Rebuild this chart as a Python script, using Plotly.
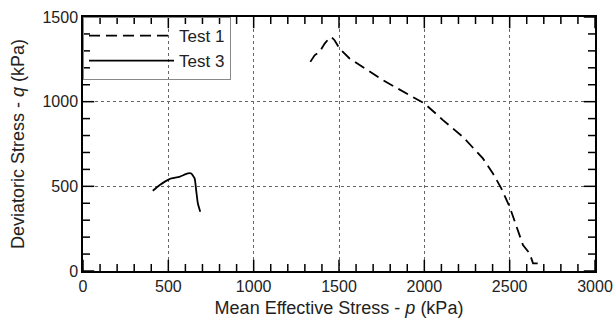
import plotly.graph_objects as go

test1_p = [1332, 1357, 1386, 1416, 1440, 1455, 1474, 1503, 1562, 1757, 1914, 2001, 2089, 2109, 2226, 2343, 2402, 2451, 2500, 2539, 2578, 2617, 2637, 2666]
test1_q = [1235, 1274, 1294, 1343, 1372, 1382, 1363, 1314, 1255, 1127, 1038, 989, 910, 891, 792, 665, 576, 488, 379, 261, 153, 104, 45, 45]

test3_p = [409, 448, 507, 565, 614, 634, 654, 663, 673, 687]
test3_q = [474, 507, 543, 556, 576, 576, 547, 478, 399, 350]

x_range = [0, 3000]
y_range = [0, 1500]
major_step = 500
minor_step = 100

font = "Liberation Sans, Arial, sans-serif"

fig = go.Figure()
fig.add_trace(go.Scatter(x=test1_p, y=test1_q, mode="lines", name="Test 1",
                         line=dict(color="black", width=1.8, dash="11px,6px")))
fig.add_trace(go.Scatter(x=test3_p, y=test3_q, mode="lines", name="Test 3",
                         line=dict(color="black", width=1.8, shape="spline", smoothing=0.5)))

# inside tick marks (half of each marker is clipped by the plot area)
x_major = list(range(x_range[0], x_range[1] + 1, major_step))
x_minor = [v for v in range(x_range[0], x_range[1] + 1, minor_step) if v % major_step]
y_major = list(range(y_range[0], y_range[1] + 1, major_step))
y_minor = [v for v in range(y_range[0], y_range[1] + 1, minor_step) if v % major_step]

def tick_trace(xs, ys, symbol, size):
    return go.Scatter(x=xs, y=ys, mode="markers", showlegend=False, hoverinfo="skip",
                      cliponaxis=True,
                      marker=dict(symbol=symbol, size=size, color="black",
                                  line=dict(width=1.5, color="black")))

for yv in y_range:
    fig.add_trace(tick_trace(x_major, [yv] * len(x_major), "line-ns", 16))
    fig.add_trace(tick_trace(x_minor, [yv] * len(x_minor), "line-ns", 10))
for xv in x_range:
    fig.add_trace(tick_trace([xv] * len(y_major), y_major, "line-ew", 16))
    fig.add_trace(tick_trace([xv] * len(y_minor), y_minor, "line-ew", 10))

fig.update_layout(
    width=616, height=331,
    margin=dict(l=83, r=21, t=17, b=60, autoexpand=False),
    plot_bgcolor="white", paper_bgcolor="white",
    font=dict(family=font, size=15, color="#222"),
    showlegend=True,
    legend=dict(x=0, y=1, xanchor="left", yanchor="top", bgcolor="rgba(0,0,0,0)",
                bordercolor="#888", borderwidth=1, itemwidth=85,
                font=dict(family=font, size=17), tracegroupgap=0),
    xaxis=dict(range=x_range, dtick=major_step, tick0=0,
               showline=True, linecolor="black", linewidth=1.5, mirror=True, ticks="",
               showgrid=True, gridcolor="#666", griddash="dot", zeroline=False,
               tickfont=dict(family=font, size=16, color="#222"),
               title=dict(text="Mean Effective Stress - <i>p</i> (kPa)", standoff=7)),
    yaxis=dict(range=y_range, dtick=major_step, tick0=0,
               showline=True, linecolor="black", linewidth=1.5, mirror=True, ticks="",
               showgrid=True, gridcolor="#666", griddash="dot", zeroline=False,
               tickfont=dict(family=font, size=16, color="#222"),
               title=dict(text="Deviatoric Stress - <i>q</i> (kPa)", standoff=13)),
)

fig.write_html("out.html")
